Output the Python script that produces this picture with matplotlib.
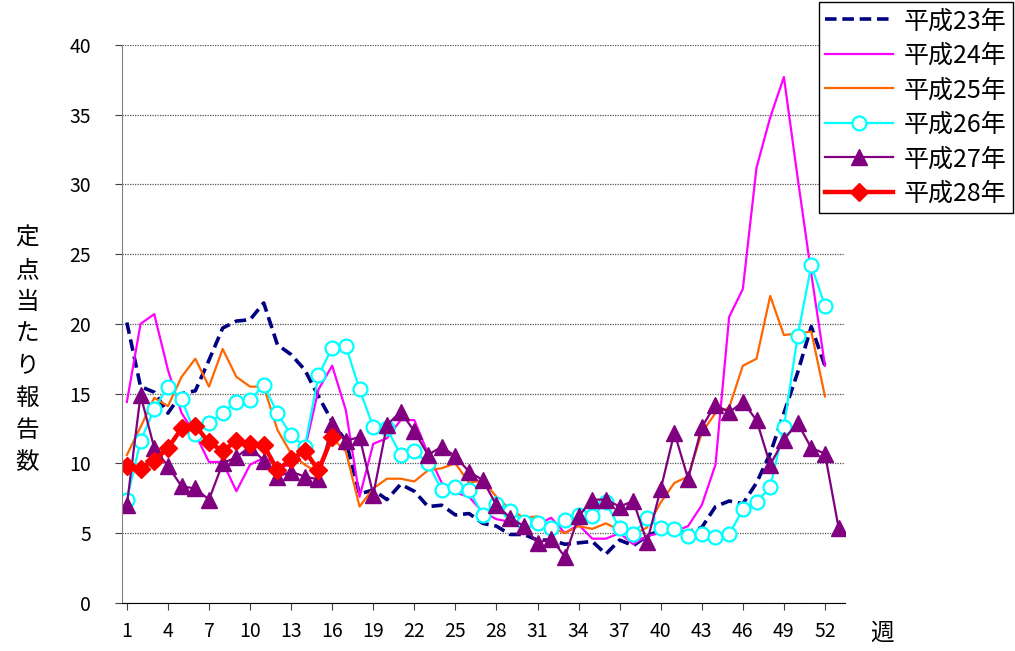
import numpy as np
import matplotlib
matplotlib.use("Agg")
import matplotlib.pyplot as plt

plt.rcParams['font.family'] = ['Noto Sans CJK JP', 'DejaVu Sans']

# weekly reports per sentinel site
h23 = [20.1, 15.5, 15.1, 13.6, 15.0, 15.2, 17.4, 19.7, 20.2, 20.3,
       21.5, 18.5, 17.8, 16.7, 14.8, 13.0, 11.6, 7.8, 8.1, 7.4,
       8.5, 8.0, 6.9, 7.0, 6.3, 6.4, 5.7, 5.5, 4.9, 4.9,
       4.5, 4.5, 4.2, 4.3, 4.4, 3.5, 4.5, 4.1, 4.8, 5.2,
       5.0, 5.1, 5.4, 6.9, 7.3, 7.1, 8.6, 10.7, 13.6, 16.5,
       19.8, 17.0]
h24 = [14.4, 20.0, 20.7, 16.7, 13.6, 12.1, 10.1, 10.1, 8.0, 9.9,
       10.4, 9.9, 9.8, 11.0, 15.3, 17.0, 13.8, 7.6, 11.4, 11.8,
       13.1, 13.1, 10.7, 8.6, 7.9, 7.6, 6.5, 6.0, 5.8, 5.5,
       5.6, 6.1, 5.0, 5.6, 4.6, 4.6, 5.0, 4.2, 4.8, 5.0,
       5.1, 5.5, 7.0, 9.9, 20.5, 22.5, 31.2, 34.8, 37.7, 30.5,
       23.6, 17.0]
h25 = [10.6, 12.6, 14.7, 14.1, 16.2, 17.5, 15.5, 18.2, 16.2, 15.5,
       15.5, 12.4, 10.7, 9.9, 9.3, 11.8, 10.85, 6.9, 8.2, 8.9,
       8.9, 8.7, 9.5, 9.65, 10.0, 8.6, 8.8, 7.6, 6.7, 6.1,
       6.2, 5.4, 5.0, 5.5, 5.3, 5.7, 5.2, 4.9, 5.4, 7.2,
       8.6, 9.05, 12.2, 13.6, 14.0, 17.0, 17.5, 22.0, 19.2, 19.3,
       19.45, 14.8]
h26 = [7.4, 11.6, 13.9, 15.5, 14.6, 12.1, 12.9, 13.6, 14.4, 14.55,
       15.6, 13.6, 12.0, 11.2, 16.3, 18.3, 18.4, 15.3, 12.6, 12.5,
       10.6, 10.9, 10.0, 8.1, 8.3, 8.1, 6.3, 7.1, 6.6, 5.8,
       5.7, 5.4, 5.95, 6.3, 6.2, 7.2, 5.35, 4.9, 6.1, 5.35,
       5.3, 4.8, 4.9, 4.75, 4.9, 6.7, 7.2, 8.3, 12.6, 19.1,
       24.2, 21.3]
h27 = [7.0, 14.9, 11.1, 9.8, 8.35, 8.2, 7.4, 10.0, 10.45, 11.2,
       10.2, 9.05, 9.4, 9.05, 8.85, 12.85, 11.6, 11.9, 7.75, 12.75,
       13.7, 12.3, 10.6, 11.2, 10.5, 9.4, 8.8, 7.0, 6.1, 5.5,
       4.3, 4.6, 3.3, 6.2, 7.4, 7.4, 6.9, 7.3, 4.35, 8.15,
       12.2, 8.9, 12.6, 14.2, 13.65, 14.4, 13.1, 9.9, 11.7, 12.9,
       11.1, 10.7, 5.35]
h28 = [9.8, 9.6, 10.2, 11.1, 12.5, 12.7, 11.5, 10.9, 11.6, 11.4,
       11.3, 9.5, 10.3, 10.9, 9.5, 11.9]

labels = ['平成23年', '平成24年', '平成25年', '平成26年', '平成27年', '平成28年']
xticks = list(range(1, 53, 3))

fig = plt.figure(figsize=(10.15, 6.51), dpi=100)
ax = fig.add_axes([0.120, 0.074, 0.713, 0.857])

def weeks(v):
    return np.arange(1, len(v) + 1)

ax.plot(weeks(h23), h23, color='#000080', lw=2.6, ls=(0, (3.2, 1.6)), label=labels[0])
ax.plot(weeks(h24), h24, color='#FF00FF', lw=1.6, label=labels[1])
ax.plot(weeks(h25), h25, color='#FF6600', lw=1.6, label=labels[2])
ax.plot(weeks(h26), h26, color='#00FFFF', lw=1.6, marker='o', ms=10,
        mfc='white', mec='#00FFFF', mew=1.6, label=labels[3])
ax.plot(weeks(h27), h27, color='#800080', lw=1.6, marker='^', ms=11,
        mfc='#800080', mec='#800080', label=labels[4])
ax.plot(weeks(h28), h28, color='#FF0000', lw=3.2, marker='D', ms=9.5,
        mfc='#FF0000', mec='#FF0000', label=labels[5])

ax.set_xlim(0.63, 53.5)
ax.set_ylim(0, 40)
ax.set_yticks(range(0, 41, 5))
ax.set_xticks(xticks)
ax.tick_params(axis='both', labelsize=14, direction='out', length=5, color='#404040')
ax.tick_params(axis='x', pad=8)
ax.tick_params(axis='y', pad=17)
ax.yaxis.grid(True, color='#555555', ls=(0, (1, 1)), lw=0.9)
ax.set_axisbelow(True)

for s in ['top', 'right']:
    ax.spines[s].set_visible(False)
ax.spines['left'].set_color('#808080')
ax.spines['bottom'].set_color('black')

fig.text(0.027, 0.462, '\n'.join('定点当たり報告数'), fontsize=17,
         ha='center', va='center', linespacing=1.5)
fig.text(0.869, 0.028, '週', fontsize=17, ha='center', va='center')

leg = fig.legend(loc='upper right', bbox_to_anchor=(0.998, 0.997), fontsize=18,
                 frameon=True, fancybox=False, edgecolor='black', framealpha=1,
                 handlelength=2.7, labelspacing=0.34, borderpad=0.25,
                 handletextpad=0.45, borderaxespad=0)
leg.get_frame().set_linewidth(1.0)

fig.savefig('out.png', dpi=100)
